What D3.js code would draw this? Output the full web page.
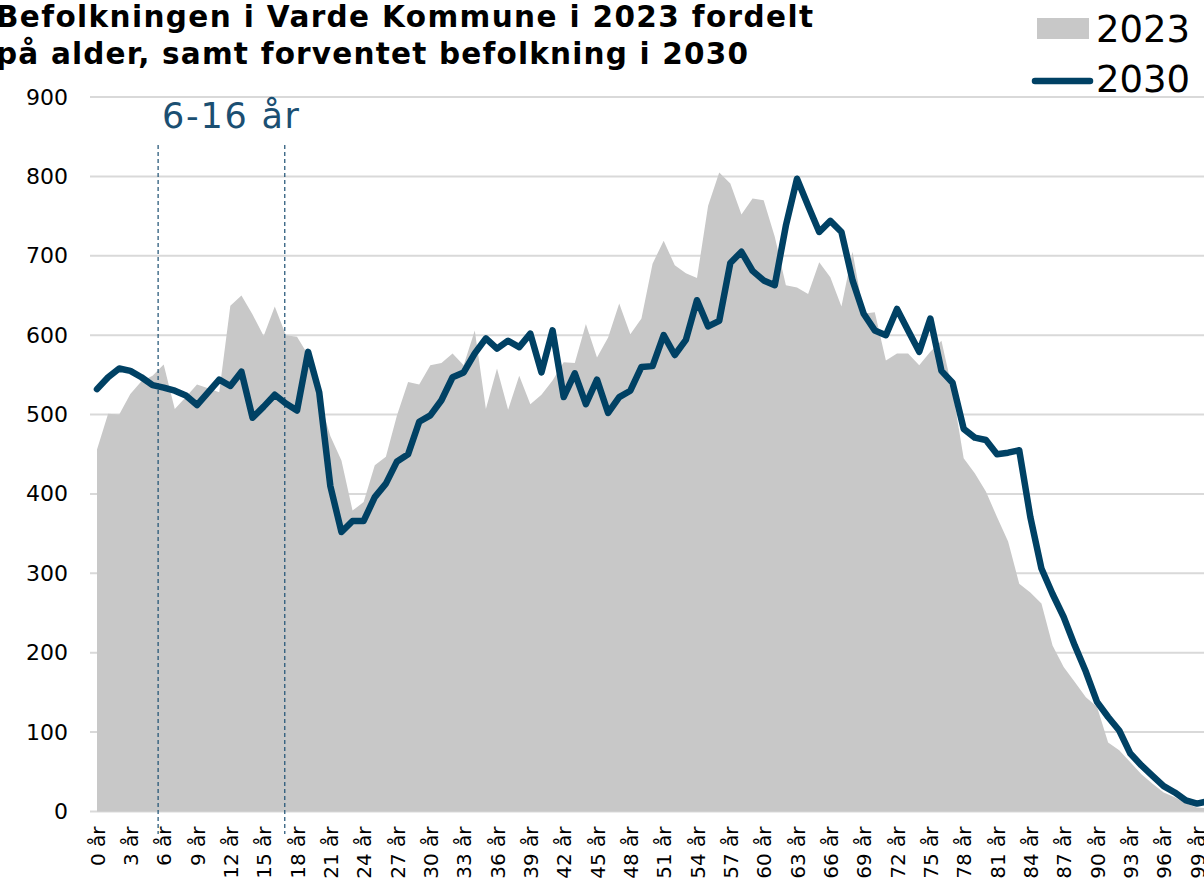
<!DOCTYPE html>
<html>
<head>
<meta charset="utf-8">
<script src="https://cdn.jsdelivr.net/npm/d3@7"></script>
<style>
  body { margin: 0; background: #fff; overflow: hidden; }
  svg { display: block; font-family: "DejaVu Sans", Verdana, sans-serif; }
</style>
</head>
<body>
<div id="chart"></div>
<script>
// Ages 0 år .. 100 år (the last one runs off the right edge)
const ages = d3.range(0, 101);
const tickAges = [0, 3, 6, 9, 12, 15, 18, 21, 24, 27, 30, 33, 36, 39, 42, 45, 48,
    51, 54, 57, 60, 63, 66, 69, 72, 75, 78, 81, 84, 87, 90, 93, 96, 99];
const yTicks = [0, 100, 200, 300, 400, 500, 600, 700, 800, 900];

// Befolkning 2023 (area)
const pop2023 = [456, 501, 500, 526, 542, 549, 563, 507, 522, 538,
    533, 528, 637, 650, 626, 599, 636, 600, 598, 575,
    520, 473, 442, 379, 390, 436, 447, 499, 541, 538,
    562, 565, 577, 562, 606, 507, 558, 506, 549, 513,
    525, 543, 566, 565, 614, 572, 597, 640, 601, 621,
    690, 719, 688, 678, 672, 763, 805, 791, 752, 772,
    770, 724, 663, 660, 652, 692, 673, 636, 705, 627,
    629, 568, 577, 577, 562, 579, 593, 530, 445, 426,
    403, 371, 340, 287, 276, 262, 209, 182, 163, 144,
    132, 87, 77, 62, 47, 35, 24, 18, 10, 5, 4];

// Forventet befolkning 2030 (line)
const pop2030 = [532, 547, 558, 555, 547, 537, 534, 530, 524, 512,
    528, 544, 536, 554, 496, 510, 525, 514, 505, 579,
    528, 410, 352, 366, 366, 396, 413, 441, 450, 491,
    499, 518, 547, 553, 577, 596, 583, 593, 585, 602,
    553, 606, 522, 552, 513, 544, 502, 522, 530, 560,
    561, 600, 575, 594, 644, 611, 618, 691, 705, 681,
    669, 663, 738, 797, 763, 730, 744, 730, 669, 627,
    606, 600, 633, 606, 579, 621, 555, 540, 482, 471,
    468, 450, 452, 455, 371, 306, 274, 245, 209, 176,
    138, 119, 102, 73, 58, 45, 32, 24, 14, 10, 13];

// Markering af aldersgruppen 6-16 år
const markerAges = [5.5, 16.9];
const markerLabel = "6-16 år";

const titleLines = ["Befolkningen i Varde Kommune i 2023 fordelt",
    "på alder, samt forventet befolkning i 2030"];
const seriesNames = ["2023", "2030"];

const W = 1204, H = 885;
const areaColor = "#c8c8c8";
const lineColor = "#004164";
const markColor = "#1b4f72";

const svg = d3.select("#chart")
    .append("svg")
    .attr("width", W)
    .attr("height", H);

const x = d3.scaleLinear().domain([0, 99]).range([97, 1197]);
const y = d3.scaleLinear().domain([0, 900]).range([811.5, 97]);

// Gridlines
svg.append("g")
    .selectAll("line")
    .data(yTicks)
    .join("line")
    .attr("x1", 90)
    .attr("x2", W)
    .attr("y1", d => y(d))
    .attr("y2", d => y(d))
    .attr("stroke", "#d9d9d9")
    .attr("stroke-width", 2);

// Y axis labels
const yAxis = svg.append("g")
    .attr("transform", "translate(68,0)")
    .call(d3.axisLeft(y).tickValues(yTicks).tickSize(0).tickPadding(0));
yAxis.select(".domain").remove();
yAxis.selectAll("text")
    .attr("font-size", 22)
    .attr("font-family", "DejaVu Sans, sans-serif")
    .attr("fill", "#000");

// 2023 area
const area = d3.area()
    .x((d, i) => x(ages[i]))
    .y0(y(0))
    .y1(d => y(d));
svg.append("path")
    .datum(pop2023)
    .attr("d", area)
    .attr("fill", areaColor);

// Dashed markers
svg.append("g")
    .selectAll("line")
    .data(markerAges)
    .join("line")
    .attr("x1", d => x(d))
    .attr("x2", d => x(d))
    .attr("y1", 145)
    .attr("y2", 834)
    .attr("stroke", markColor)
    .attr("stroke-width", 1.2)
    .attr("stroke-dasharray", "4,3");

svg.append("text")
    .attr("x", 162)
    .attr("y", 128)
    .attr("font-size", 35)
    .attr("fill", markColor)
    .attr("textLength", 137)
    .attr("lengthAdjust", "spacing")
    .text(markerLabel);

// 2030 line
const line = d3.line()
    .x((d, i) => x(ages[i]))
    .y(d => y(d));
svg.append("path")
    .datum(pop2030)
    .attr("d", line)
    .attr("fill", "none")
    .attr("stroke", lineColor)
    .attr("stroke-width", 6.5)
    .attr("stroke-linejoin", "round")
    .attr("stroke-linecap", "round");

// X axis labels
const xAxis = svg.append("g")
    .attr("transform", `translate(0,${y(0)})`)
    .call(d3.axisBottom(x).tickValues(tickAges).tickSize(0).tickFormat(d => d + " år"));
xAxis.select(".domain").remove();
xAxis.selectAll("text")
    .attr("font-size", 20)
    .attr("font-family", "DejaVu Sans, sans-serif")
    .attr("fill", "#000")
    .attr("transform", "rotate(-90)")
    .attr("x", -15)
    .attr("y", 0)
    .attr("dy", "0.35em")
    .style("text-anchor", "end");

// Title
const titleWidths = [817, 752];
svg.append("text")
    .attr("font-size", 29.5)
    .attr("font-weight", "bold")
    .attr("fill", "#000")
    .selectAll("tspan")
    .data(titleLines)
    .join("tspan")
    .attr("x", -4)
    .attr("y", (d, i) => 27 + i * 37)
    .attr("textLength", (d, i) => titleWidths[i])
    .attr("lengthAdjust", "spacing")
    .text(d => d);

// Legend
svg.append("rect")
    .attr("x", 1037)
    .attr("y", 18)
    .attr("width", 52)
    .attr("height", 21)
    .attr("fill", areaColor);
svg.append("line")
    .attr("x1", 1035)
    .attr("x2", 1090)
    .attr("y1", 81)
    .attr("y2", 81)
    .attr("stroke", lineColor)
    .attr("stroke-width", 6.5)
    .attr("stroke-linecap", "round");
svg.append("g")
    .selectAll("text")
    .data(seriesNames)
    .join("text")
    .attr("x", 1096)
    .attr("y", (d, i) => 42 + i * 50)
    .attr("font-size", 37)
    .attr("fill", "#000")
    .text(d => d);
</script>
</body>
</html>
